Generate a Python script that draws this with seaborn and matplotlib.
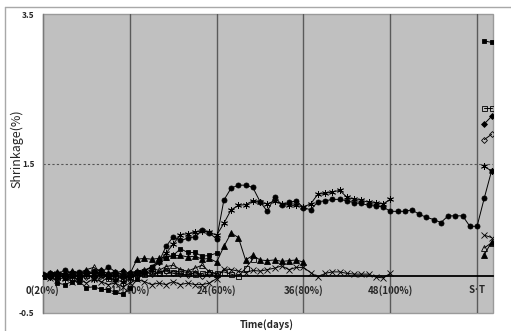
import numpy as np
import pandas as pd
import matplotlib
matplotlib.use("Agg")
import matplotlib.pyplot as plt
from matplotlib.lines import Line2D
import seaborn as sns

# ---- shrinkage readings (%) per day, starting at day 0 ----
circle_filled = [0.02, 0.04, 0.01, 0.08, 0.03, 0.05, 0.02, 0.06, 0.03, 0.12, 0.05, 0.00, 0.03,
                 0.05, 0.06, 0.12, 0.18, 0.39, 0.52, 0.47, 0.50, 0.52, 0.61, 0.57, 0.49,
                 1.01, 1.17, 1.21, 1.21, 1.18, 0.99, 0.86, 1.05, 0.95, 0.98, 1.00, 0.91,
                 0.88, 0.99, 1.00, 1.02, 1.02, 1.00, 0.975, 0.965, 0.94, 0.93, 0.92, 0.86,
                 0.86, 0.86, 0.88, 0.82, 0.78, 0.75, 0.71, 0.80, 0.80, 0.80, 0.66, 0.66]
star = [0.00, -0.02, 0.03, -0.05, 0.00, -0.06, 0.02, -0.04, 0.04, -0.02, -0.06, -0.08, -0.03,
        0.02, 0.04, 0.08, 0.18, 0.30, 0.42, 0.55, 0.56, 0.58, 0.60, 0.58, 0.54,
        0.70, 0.88, 0.94, 0.95, 1.00, 0.98, 0.96, 1.00, 0.96, 0.94, 0.94, 0.92,
        0.96, 1.09, 1.10, 1.12, 1.14, 1.05, 1.02, 1.01, 0.98, 0.97, 0.96, 1.02]
cross = [0.00, -0.03, -0.06, -0.02, -0.08, -0.05, -0.10, -0.04, -0.08, -0.12, -0.10, -0.15, -0.10,
         -0.05, -0.08, -0.12, -0.10, -0.12, -0.08, -0.12, -0.10, -0.12, -0.12, -0.10, -0.04,
         0.09, 0.08, 0.06, 0.04, 0.07, 0.06, 0.08, 0.10, 0.13, 0.08, 0.11, 0.11,
         0.04, -0.02, 0.03, 0.05, 0.05, 0.03, 0.02, 0.02, 0.02, -0.02, -0.03, 0.03]
tri_filled = [0.00, 0.02, 0.00, 0.03, 0.01, 0.00, 0.04, 0.02, 0.05, 0.00, 0.03, 0.02, 0.02,
              0.22, 0.23, 0.22, 0.23, 0.25, 0.27, 0.27, 0.25, 0.26, 0.22, 0.23, 0.18,
              0.39, 0.57, 0.51, 0.21, 0.27, 0.21, 0.20, 0.21, 0.19, 0.20, 0.21, 0.18]
sq_filled = [0.00, 0.02, -0.10, -0.12, -0.08, -0.08, -0.16, -0.15, -0.18, -0.19, -0.22, -0.25, -0.17,
             -0.05, 0.06, 0.12, 0.20, 0.24, 0.27, 0.36, 0.31, 0.31, 0.26, 0.27, 0.30]
sq_open = [0.00, 0.02, -0.02, 0.00, 0.03, -0.02, 0.01, 0.04, 0.02, -0.03, 0.00, -0.05, -0.02,
           0.05, 0.02, 0.06, 0.04, 0.08, 0.05, 0.06, 0.04, 0.02, 0.03, 0.05, 0.03,
           0.05, 0.02, -0.01, 0.10, 0.22]
tri_open = [0.00, 0.03, 0.05, 0.02, 0.06, 0.04, 0.08, 0.11, 0.06, 0.03, 0.05, 0.02, 0.04,
            0.06, 0.08, 0.10, 0.07, 0.12, 0.14, 0.08, 0.06, 0.10, 0.14, 0.05, 0.02]
dia_open = [0.00, -0.02, 0.02, 0.00, -0.03, 0.02, -0.02, 0.00, -0.05, 0.02, -0.04, -0.02, 0.00,
            0.03, 0.05, 0.02, 0.04, 0.06, 0.03, 0.02, 0.01, 0.04, 0.00, 0.02, 0.00]
dia_filled = [0.00, 0.02, 0.04, 0.02, 0.05, 0.03, 0.06, 0.04, 0.08, 0.02, 0.04, 0.06, 0.03]

# ---- S･T readings (two per series) ----
st_days = [61, 62]
circle_filled_st = [1.04, 1.40]
star_st = [1.46, 1.40]
cross_st = [0.54, 0.51]
tri_filled_st = [0.28, 0.45]
sq_filled_st = [3.14, 3.12]
sq_open_st = [2.24, 2.24]
tri_open_st = [0.37, 0.44]
dia_open_st = [1.82, 1.89]
dia_filled_st = [2.03, 2.13]

x_ticks = [0, 12, 24, 36, 48, 60]
x_tick_labels = ["0(20%)", "12(40%)", "24(60%)", "36(80%)", "48(100%)", "S\uff65T"]
y_ticks = [3.5, 1.5, -0.5]

series = {
    "dia_open": (dia_open, dia_open_st),
    "tri_open": (tri_open, tri_open_st),
    "sq_open": (sq_open, sq_open_st),
    "dia_filled": (dia_filled, dia_filled_st),
    "cross": (cross, cross_st),
    "star": (star, star_st),
    "tri_filled": (tri_filled, tri_filled_st),
    "sq_filled": (sq_filled, sq_filled_st),
    "circle_filled": (circle_filled, circle_filled_st),
}

# marker, face colour, marker size
styles = {
    "dia_open": ("D", "none", 3.0),
    "tri_open": ("^", "none", 4.0),
    "sq_open": ("s", "none", 3.6),
    "dia_filled": ("D", "black", 3.0),
    "cross": ("x", "black", 4.2),
    "star": ((6, 2, 0), "black", 5.0),
    "tri_filled": ("^", "black", 4.0),
    "sq_filled": ("s", "black", 3.4),
    "circle_filled": ("o", "black", 3.6),
}

rows = []
for name, (vals, st_vals) in series.items():
    for d, v in enumerate(vals):
        rows.append((name, d, v, 0))
    # a series that reaches day 60 runs straight into its S･T readings
    seg = 0 if len(vals) > 60 else 1
    for d, v in zip(st_days, st_vals):
        rows.append((name, d, v, seg))
df = pd.DataFrame(rows, columns=["series", "day", "shrinkage", "segment"])

sns.set_style("white")
plt.rcParams["font.family"] = ["Noto Sans CJK JP", "DejaVu Sans"]

fig = plt.figure(figsize=(5.11, 3.31), dpi=100)
ax = fig.add_axes([43 / 511, 18 / 331, 450 / 511, 299 / 331])
ax.set_facecolor("#c0c0c0")

ax.set_xlim(0, 62.2)
ax.set_ylim(-0.5, 3.5)

for xv in x_ticks[1:]:
    ax.axvline(xv, color="#5a5a5a", lw=1.0, zorder=1)
ax.axhline(1.5, color="#555555", lw=0.8, ls=(0, (2, 2)), zorder=1)

for name, (marker, face, size) in styles.items():
    sub = df[df["series"] == name]
    sns.lineplot(data=sub, x="day", y="shrinkage", units="segment", estimator=None,
                 color="black", lw=0.7, marker=marker, markersize=size,
                 markerfacecolor=face, markeredgecolor="black", markeredgewidth=0.6,
                 legend=False, ax=ax, zorder=3)

# gray frame round the plotting area, black zero line as the x axis
ax.patch.set_edgecolor("#9a9a9a")
ax.patch.set_linewidth(1.0)
for side in ["top", "right"]:
    ax.spines[side].set_visible(False)
ax.spines["left"].set_color("#7a7a7a")
ax.spines["left"].set_linewidth(1.0)
ax.spines["bottom"].set_position(("data", 0))
ax.spines["bottom"].set_color("black")
ax.spines["bottom"].set_linewidth(1.3)
ax.spines["bottom"].set_zorder(2)

ax.set_xticks(x_ticks)
ax.set_xticklabels(x_tick_labels, fontsize=7, fontweight="bold")
ax.set_yticks(y_ticks)
ax.set_yticklabels([f"{v:.1f}" for v in y_ticks], fontsize=6, fontweight="bold")
ax.tick_params(axis="x", length=0, pad=7)
ax.tick_params(axis="y", length=0, pad=6)

ax.set_xlabel("Time(days)", fontsize=7, fontweight="bold")
ax.set_ylabel("Shrinkage(%)", fontsize=9)
ax.xaxis.set_label_coords(0.498, -0.022)
ax.yaxis.set_label_coords(-0.044, 0.55)

# outer chart border
fig.add_artist(Line2D([5 / 511, 1.0], [1 - 7 / 331, 1 - 7 / 331], color="#a8a8a8", lw=1.0))
fig.add_artist(Line2D([5 / 511, 5 / 511], [0.0, 1 - 7 / 331], color="#a8a8a8", lw=1.0))

fig.savefig("out.png", dpi=100)
